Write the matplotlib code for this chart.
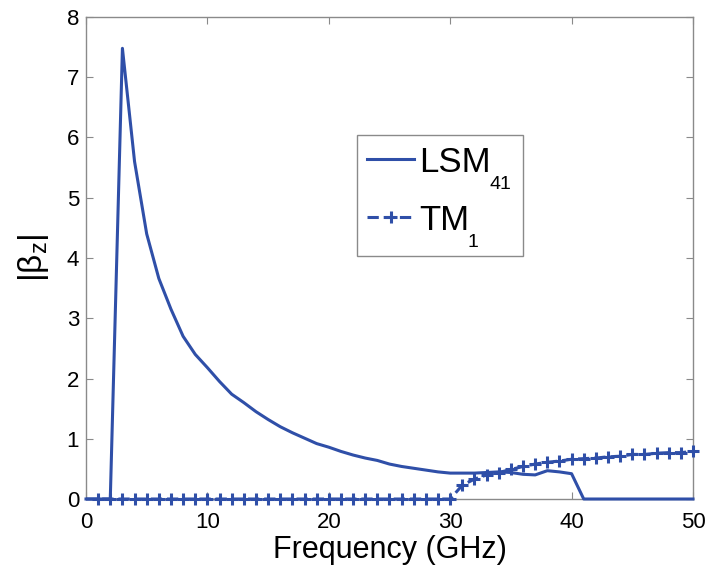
import numpy as np
import matplotlib
matplotlib.use("Agg")
import matplotlib.pyplot as plt
from matplotlib.patches import Rectangle
from matplotlib.transforms import IdentityTransform

plt.rcParams['font.family'] = ['Liberation Sans', 'DejaVu Sans']
plt.rcParams['mathtext.fontset'] = 'custom'
plt.rcParams['mathtext.rm'] = 'Liberation Sans'
plt.rcParams['mathtext.it'] = 'Liberation Sans'
plt.rcParams['mathtext.bf'] = 'Liberation Sans:bold'

# frequency in GHz
freq = list(range(0, 51))

# |beta_z| for the LSM41 mode
lsm41 = [0, 0, 0, 7.48, 5.6, 4.4, 3.66, 3.15, 2.7, 2.4,
         2.18, 1.95, 1.74, 1.6, 1.45, 1.32, 1.2, 1.1, 1.01, 0.92,
         0.86, 0.79, 0.73, 0.68, 0.64, 0.58, 0.54, 0.51, 0.48, 0.45,
         0.43, 0.43, 0.43, 0.44, 0.45, 0.44, 0.41, 0.40, 0.47, 0.45,
         0.42, 0, 0, 0, 0, 0, 0, 0, 0, 0, 0]

# |beta_z| for the TM1 mode
tm1 = [0] * 31 + [0.23, 0.33, 0.40, 0.44, 0.49, 0.54, 0.58, 0.61, 0.63,
                  0.66, 0.67, 0.68, 0.70, 0.71, 0.74, 0.74, 0.76, 0.77, 0.77,
                  0.79]

# legend names and their subscripts
names = ['LSM', 'TM']
subs = ['41', '1']

blue = '#2f4fa8'
grey = '#8a8a8a'

fig = plt.figure(figsize=(7.09, 5.72), dpi=100)
ax = fig.add_axes([0.1213, 0.1276, 0.8561, 0.8427])

ax.plot(freq, lsm41, '-', color=blue, lw=2.2, label=names[0],
        clip_on=False, zorder=3)
ax.plot(freq, tm1, '--', color=blue, lw=2.2, marker='+', ms=9, mew=2.2,
        markevery=slice(1, None), label=names[1], clip_on=False, zorder=4)

ax.set_xlim(0, 50)
ax.set_ylim(0, 8)
ax.set_xticks([0, 10, 20, 30, 40, 50])
ax.set_yticks(range(0, 9))

for s in ax.spines.values():
    s.set_color(grey)
    s.set_linewidth(1.0)
ax.tick_params(direction='in', length=5, width=0.8, color=grey,
               labelsize=16, top=True, right=True)
ax.tick_params(axis='x', pad=9)
ax.tick_params(axis='y', pad=5)

ax.set_xlabel('Frequency (GHz)', fontsize=22, labelpad=2)
ax.set_ylabel(r'|β$_{\mathregular{z}}$|', fontsize=24, labelpad=11)

leg = ax.legend(loc='upper left', bbox_to_anchor=(0.4465, 0.755),
                borderaxespad=0, fontsize=25, frameon=False,
                handlelength=1.33, handletextpad=0.15, borderpad=0.3,
                labelspacing=0.72, numpoints=1)

# subscripts under the legend names, and a box round the whole legend
fig.canvas.draw()
r = fig.canvas.get_renderer()
right = 0
for t, sub in zip(leg.get_texts(), subs):
    bb = t.get_window_extent(r)
    _, _, d = r.get_text_width_height_descent(t.get_text(),
                                              t.get_fontproperties(), False)
    st = fig.text(bb.x1 - 1, bb.y0 + d - 10, sub, fontsize=14,
                  ha='left', va='baseline', transform=IdentityTransform())
    right = max(right, st.get_window_extent(r).x1)
lb = leg.get_window_extent(r)
box = Rectangle((lb.x0, lb.y0 - 9), right + 12 - lb.x0, lb.height + 9,
                transform=IdentityTransform(), fill=False, ec=grey, lw=1.0)
fig.patches.append(box)

fig.savefig('out.png', dpi=100)
